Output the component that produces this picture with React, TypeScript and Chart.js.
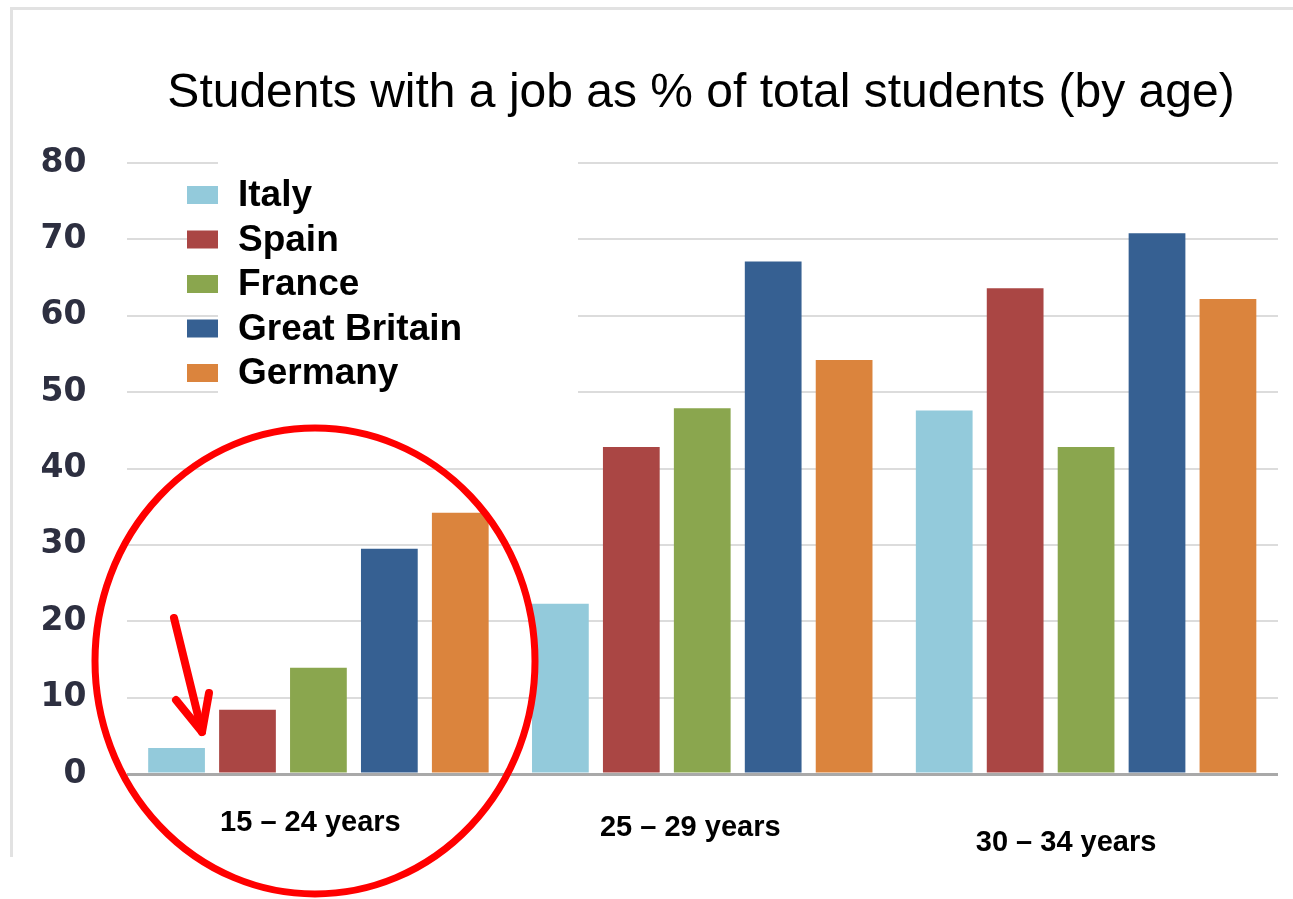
import React, { useEffect, useRef } from "react";
import { Chart, registerables } from "chart.js";

Chart.register(...registerables);

const categories = ["15 – 24 years", "25 – 29 years", "30 – 34 years"];
const countries = ["Italy", "Spain", "France", "Great Britain", "Germany"];
const italy = [3.4, 22.3, 47.6];
const spain = [8.4, 42.8, 63.6];
const france = [13.9, 47.9, 42.8];
const greatBritain = [29.5, 67.1, 70.8];
const germany = [34.2, 54.2, 62.2];
const yTicks = [0, 10, 20, 30, 40, 50, 60, 70, 80];
const titleText = "Students with a job as % of total students (by age)";

const colors = ["#93cadb", "#aa4644", "#8aa64e", "#366092", "#db843d"];
const seriesValues = [italy, spain, france, greatBritain, germany];

// label placement tweaks (pixels) for the category labels
const labelDx = [-8, -12, -20];
const labelY = [823, 828, 843];

const decorPlugin = {
  id: "decor",
  beforeDraw(chart: any) {
    const ctx = chart.ctx;
    ctx.save();
    ctx.fillStyle = "#ffffff";
    ctx.fillRect(0, 0, chart.width, chart.height);
    ctx.strokeStyle = "#e2e2e2";
    ctx.lineWidth = 3;
    ctx.beginPath();
    ctx.moveTo(11.5, 857);
    ctx.lineTo(11.5, 8.5);
    ctx.lineTo(1293, 8.5);
    ctx.stroke();
    ctx.restore();
  },
  beforeDatasetsDraw(chart: any) {
    const ctx = chart.ctx;
    ctx.save();
    // legend background
    ctx.fillStyle = "#ffffff";
    ctx.fillRect(218, 150, 360, 250);
    const rowY0 = 195;
    const step = 44.5;
    chart.data.datasets.forEach((ds: any, i: number) => {
      const cy = rowY0 + i * step;
      ctx.fillStyle = ds.backgroundColor;
      ctx.fillRect(187, cy - 9, 31, 18);
      ctx.fillStyle = "#000000";
      ctx.font = "bold 37px 'Liberation Sans', Arial, sans-serif";
      ctx.textAlign = "left";
      ctx.textBaseline = "middle";
      ctx.fillText(ds.label, 238, cy + 1);
    });
    ctx.restore();
  },
  afterDraw(chart: any) {
    const ctx = chart.ctx;
    const xs = chart.scales.x;
    ctx.save();
    // title
    ctx.fillStyle = "#000000";
    ctx.font = "48px 'Liberation Sans', Arial, sans-serif";
    ctx.textAlign = "center";
    ctx.textBaseline = "alphabetic";
    ctx.fillText(titleText, 701, 107);
    // category labels
    ctx.font = "bold 29px 'Liberation Sans', Arial, sans-serif";
    ctx.textBaseline = "middle";
    chart.data.labels.forEach((lab: string, i: number) => {
      const x = xs.getPixelForValue(i) + labelDx[i];
      ctx.fillText(lab, x, labelY[i]);
    });
    // red ellipse annotation
    ctx.strokeStyle = "#ff0000";
    ctx.lineWidth = 7;
    ctx.beginPath();
    ctx.ellipse(315, 661, 220, 233, 0, 0, Math.PI * 2);
    ctx.stroke();
    // arrow
    ctx.lineWidth = 8;
    ctx.lineCap = "round";
    ctx.lineJoin = "round";
    ctx.beginPath();
    ctx.moveTo(174, 618);
    ctx.lineTo(202, 732);
    ctx.stroke();
    ctx.beginPath();
    ctx.moveTo(176, 700);
    ctx.lineTo(202, 732);
    ctx.lineTo(209, 693);
    ctx.stroke();
    ctx.restore();
  },
};

export default function App() {
  const ref = useRef<HTMLCanvasElement | null>(null);
  useEffect(() => {
    document.body.style.margin = "0";
    const canvas = ref.current;
    if (!canvas) return;
    const chart = new Chart(canvas, {
      type: "bar",
      data: {
        labels: categories,
        datasets: countries.map((c, i) => ({
          label: c,
          data: seriesValues[i],
          backgroundColor: colors[i],
          borderWidth: 0,
          categoryPercentage: 0.924,
          barPercentage: 0.8,
        })),
      },
      options: {
        animation: false,
        responsive: false,
        devicePixelRatio: 1,
        layout: { padding: { left: 0, right: 15, top: 163, bottom: 125 } },
        plugins: {
          legend: { display: false },
          title: { display: false },
          tooltip: { enabled: false },
        },
        scales: {
          x: {
            grid: { display: false },
            border: { display: false },
            ticks: { display: false },
            afterFit: (s: any) => {
              s.height = 0;
            },
          },
          y: {
            min: 0,
            max: 80,
            afterFit: (s: any) => {
              s.width = 126.5;
            },
            afterBuildTicks: (s: any) => {
              s.ticks = yTicks.map((v) => ({ value: v }));
            },
            border: { display: false },
            grid: {
              drawTicks: false,
              color: (c: any) => (c.tick && c.tick.value === 0 ? "#a9a9a9" : "#dcdcdc"),
              lineWidth: (c: any) => (c.tick && c.tick.value === 0 ? 3 : 2),
            },
            ticks: {
              padding: 40,
              color: "#2d2f40",
              font: { family: "'DejaVu Sans', sans-serif", size: 33, weight: "bold" },
            },
          },
        },
      },
      plugins: [decorPlugin],
    });
    return () => chart.destroy();
  }, []);
  return (
    <div style={{ width: 1293, height: 899, overflow: "hidden" }}>
      <canvas ref={ref} width={1293} height={899} style={{ display: "block" }} />
    </div>
  );
}
